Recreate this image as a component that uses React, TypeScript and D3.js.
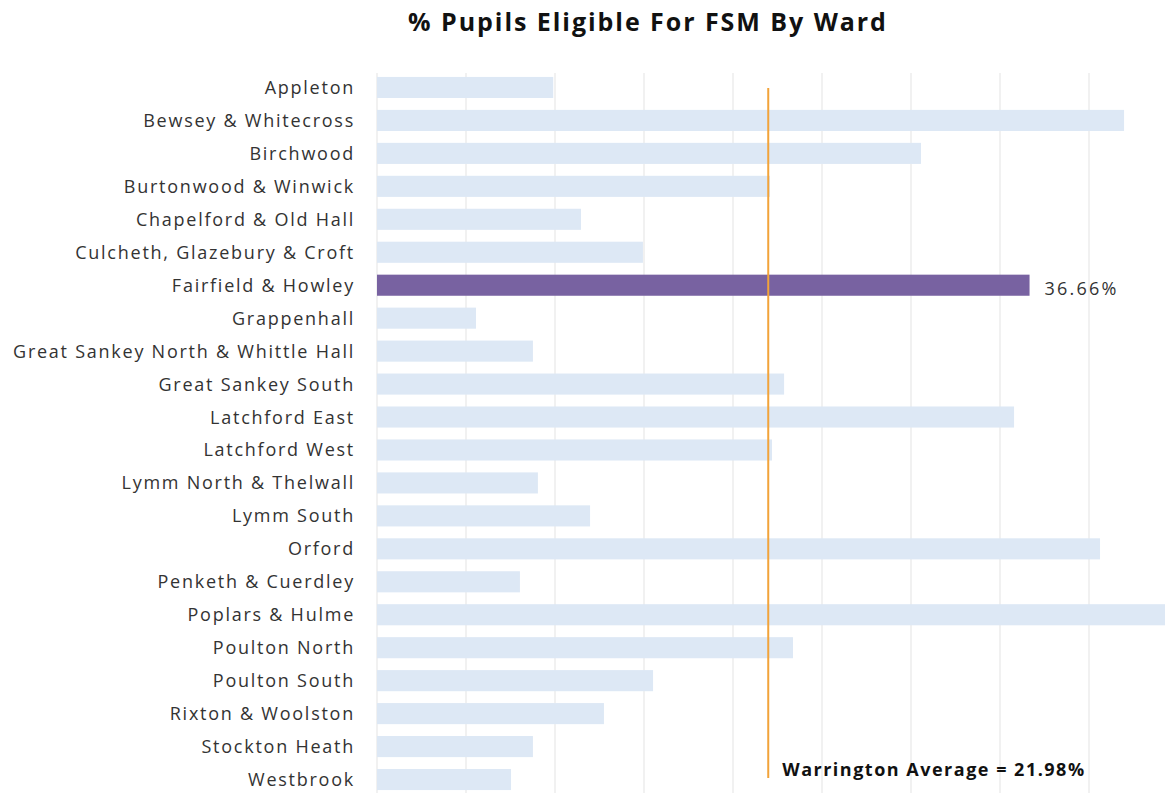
import React from "react";
import * as d3 from "d3";

const wards: string[] = [
  "Appleton",
  "Bewsey & Whitecross",
  "Birchwood",
  "Burtonwood & Winwick",
  "Chapelford & Old Hall",
  "Culcheth, Glazebury & Croft",
  "Fairfield & Howley",
  "Grappenhall",
  "Great Sankey North & Whittle Hall",
  "Great Sankey South",
  "Latchford East",
  "Latchford West",
  "Lymm North & Thelwall",
  "Lymm South",
  "Orford",
  "Penketh & Cuerdley",
  "Poplars & Hulme",
  "Poulton North",
  "Poulton South",
  "Rixton & Woolston",
  "Stockton Heath",
  "Westbrook",
];

const fsmPercent: number[] = [
  9.9, 41.97, 30.56, 22.08, 11.46, 14.94, 36.66, 5.56, 8.76, 22.87, 35.79,
  22.19, 9.04, 11.97, 40.62, 8.03, 44.6, 23.37, 15.51, 12.75, 8.76, 7.53,
];

const highlightWard = "Fairfield & Howley";
const warringtonAverage = 21.98;
const gridTicks: number[] = [0, 5, 10, 15, 20, 25, 30, 35, 40, 45];
const title = "% Pupils Eligible For FSM By Ward";

const W = 1165;
const H = 793;
const margin = { left: 377, top: 71, bottom: -3 };
const pxPerUnit = 17.8;

export default function App() {
  const x = d3
    .scaleLinear()
    .domain([0, 45])
    .range([margin.left, margin.left + 45 * pxPerUnit]);
  const y = d3
    .scaleBand<string>()
    .domain(wards)
    .range([margin.top, H - margin.bottom])
    .paddingInner(0.36)
    .paddingOuter(0.18);

  const font = "'Open Sans', 'Liberation Sans', sans-serif";

  return (
    <div style={{ position: "absolute", left: 0, top: 0 }}>
      <svg width={W} height={H} style={{ display: "block" }}>
        <defs>
          <clipPath id="plotclip">
            <rect x={0} y={0} width={W} height={H} />
          </clipPath>
        </defs>
        <rect x={0} y={0} width={W} height={H} fill="#ffffff" />
        <text
          x={648}
          y={31}
          textAnchor="middle"
          fontFamily={font}
          fontWeight={700}
          fontSize={25}
          letterSpacing={1.95}
          fill="#111"
        >
          {title}
        </text>
        {gridTicks.map((t) => (
          <line
            key={t}
            x1={x(t)}
            x2={x(t)}
            y1={73}
            y2={H}
            stroke="#ececec"
            strokeWidth={1.5}
          />
        ))}
        <g clipPath="url(#plotclip)">
          {wards.map((w, i) => (
            <rect
              key={w}
              x={x(0)}
              y={y(w)}
              width={x(fsmPercent[i]) - x(0)}
              height={y.bandwidth()}
              fill={w === highlightWard ? "#7862a1" : "#dde8f5"}
            />
          ))}
        </g>
        {wards.map((w) => (
          <text
            key={w}
            x={355}
            y={(y(w) as number) + y.bandwidth() / 2}
            dy="0.36em"
            textAnchor="end"
            fontFamily={font}
            fontSize={18}
            letterSpacing={1.75}
            fill="#333"
          >
            {w}
          </text>
        ))}
        {wards.map((w, i) =>
          w === highlightWard ? (
            <text
              key={"v" + w}
              x={x(fsmPercent[i]) + 15}
              y={(y(w) as number) + y.bandwidth() / 2 + 3}
              dy="0.36em"
              fontFamily={font}
              fontSize={18}
              letterSpacing={2.2}
              fill="#333"
            >
              {fsmPercent[i].toFixed(2)}%
            </text>
          ) : null
        )}
        <line
          x1={x(warringtonAverage)}
          x2={x(warringtonAverage)}
          y1={88}
          y2={778}
          stroke="#f2a33a"
          strokeWidth={2}
        />
        <text
          x={x(warringtonAverage) + 14}
          y={776}
          fontFamily={font}
          fontWeight={700}
          fontSize={18}
          letterSpacing={1.5}
          fill="#111"
        >
          Warrington Average = {warringtonAverage.toFixed(2)}%
        </text>
      </svg>
    </div>
  );
}
